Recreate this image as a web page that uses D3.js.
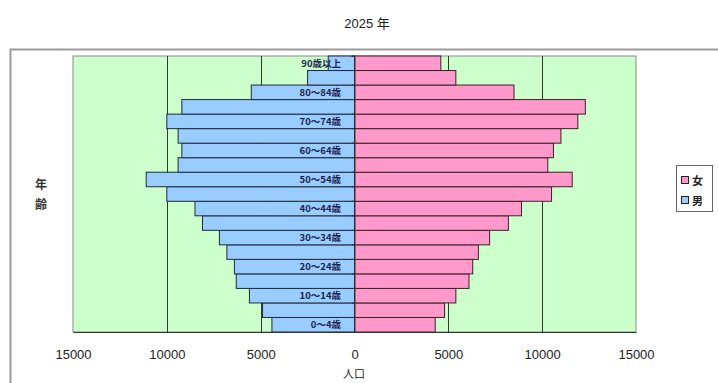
<!DOCTYPE html>
<html>
<head>
<meta charset="utf-8">
<script src="https://cdn.jsdelivr.net/npm/d3@7"></script>
<style>
  html, body { margin: 0; padding: 0; background: #fff; }
  svg { display: block; }
  text { font-family: "Liberation Sans", "Noto Sans CJK JP", sans-serif; }
  .jp { font-family: "Noto Sans CJK JP", sans-serif; }
</style>
</head>
<body>
<svg id="chart" width="718" height="383"></svg>
<script>
// Age groups, youngest first
const ageGroups = ["0～4歳","5～9歳","10～14歳","15～19歳","20～24歳","25～29歳","30～34歳","35～39歳",
  "40～44歳","45～49歳","50～54歳","55～59歳","60～64歳","65～69歳","70～74歳","75～79歳",
  "80～84歳","85～89歳","90歳以上"];
// Population by age group (persons)
const male   = [4400,4900,5600,6300,6400,6800,7200,8100,8500,10000,11100,9400,9200,9400,10000,9200,5500,2500,1400];
const female = [4300,4800,5400,6100,6300,6600,7200,8200,8900,10500,11600,10300,10600,11000,11900,12300,8500,5400,4600];
// Age groups that carry a label
const labeledGroups = ["0～4歳","10～14歳","20～24歳","30～34歳","40～44歳","50～54歳","60～64歳","70～74歳","80～84歳","90歳以上"];
const xTicks = [-15000,-10000,-5000,0,5000,10000,15000];
const gridTicks = [-10000,-5000,5000,10000];
const title = "2025 年";
const seriesNames = ["女","男"];

const svg = d3.select("#chart");
const plot = {left: 73, right: 636, top: 56, bottom: 332};

// Outer chart frame
svg.append("rect").attr("x", 10.5).attr("y", 49.5).attr("width", 720).attr("height", 400)
  .attr("fill", "#fff").attr("stroke", "#9a9a9a").attr("stroke-width", 2);

svg.append("text").attr("x", 367).attr("y", 28).attr("text-anchor", "middle")
  .attr("font-size", 13).attr("fill", "#222").text(title);

const x = d3.scaleLinear().domain([-15000, 15000]).range([plot.left, plot.right]);
const y = d3.scaleBand().domain(ageGroups.slice().reverse()).range([plot.top, plot.bottom]).padding(0);

// Plot background
svg.append("rect").attr("x", plot.left).attr("y", plot.top)
  .attr("width", plot.right - plot.left).attr("height", plot.bottom - plot.top)
  .attr("fill", "#ccffcc").attr("stroke", "#8a8a8a").attr("stroke-width", 1);

// Vertical gridlines
svg.append("g").selectAll("line").data(gridTicks).join("line")
  .attr("x1", d => Math.round(x(d)) + 0.5).attr("x2", d => Math.round(x(d)) + 0.5)
  .attr("y1", plot.top).attr("y2", plot.bottom)
  .attr("stroke", "#2e3a2e").attr("stroke-width", 1);

const rows = ageGroups.map((g, i) => ({group: g, m: male[i], f: female[i]}));

// Male bars (left)
svg.append("g").selectAll("rect").data(rows).join("rect")
  .attr("x", d => x(-d.m)).attr("y", d => y(d.group))
  .attr("width", d => x(0) - x(-d.m)).attr("height", y.bandwidth())
  .attr("fill", "#99ccff").attr("stroke", "#1f2a3a").attr("stroke-width", 1);

// Female bars (right)
svg.append("g").selectAll("rect").data(rows).join("rect")
  .attr("x", x(0)).attr("y", d => y(d.group))
  .attr("width", d => x(d.f) - x(0)).attr("height", y.bandwidth())
  .attr("fill", "#ff99cc").attr("stroke", "#3a1f2a").attr("stroke-width", 1);

// Category axis at zero
const yAxis = d3.axisLeft(y).tickSize(3).tickFormat("");
svg.append("g").attr("transform", `translate(${x(0)},0)`).call(yAxis)
  .call(g => g.select(".domain").attr("stroke", "#333"))
  .call(g => g.selectAll(".tick line").attr("stroke", "#333").attr("transform", `translate(0,${-y.bandwidth()/2})`));

// Age labels inside bars
svg.append("g").selectAll("text").data(labeledGroups).join("text")
  .attr("class", "jp")
  .attr("x", 341).attr("y", d => y(d) + y.bandwidth() / 2 + 3.5)
  .attr("text-anchor", "end").attr("font-size", 9.5).attr("font-weight", "bold")
  .attr("fill", "#1c2450").text(d => d);

// Value axis
const xAxis = d3.axisBottom(x).tickValues(xTicks).tickSize(0).tickPadding(18)
  .tickFormat(d => Math.abs(d));
svg.append("g").attr("transform", `translate(0,${plot.bottom})`).call(xAxis)
  .call(g => g.select(".domain").attr("stroke", "#333"))
  .call(g => g.selectAll("text").attr("font-size", 13).attr("fill", "#222")
    .style("font-family", "'Liberation Sans', sans-serif"));

svg.append("text").attr("class", "jp").attr("x", 354).attr("y", 378)
  .attr("text-anchor", "middle").attr("font-size", 11).attr("fill", "#222").text("人口");

// Vertical axis title
svg.append("g").selectAll("text").data(["年","齢"]).join("text")
  .attr("class", "jp").attr("x", 41).attr("y", (d, i) => 189 + i * 20)
  .attr("text-anchor", "middle").attr("font-size", 12).attr("font-weight", "bold")
  .attr("fill", "#333").text(d => d);

// Legend
const legend = svg.append("g");
legend.append("rect").attr("x", 676.5).attr("y", 165.5).attr("width", 36).attr("height", 46)
  .attr("fill", "#fff").attr("stroke", "#666");
const legendColors = ["#ff99cc", "#99ccff"];
seriesNames.forEach((name, i) => {
  const cy = 181 + i * 20;
  legend.append("rect").attr("x", 681.5).attr("y", cy - 4.5).attr("width", 7).attr("height", 7)
    .attr("fill", legendColors[i]).attr("stroke", "#222");
  legend.append("text").attr("class", "jp").attr("x", 692).attr("y", cy + 4)
    .attr("font-size", 11).attr("font-weight", "bold").attr("fill", "#222").text(name);
});
</script>
</body>
</html>
